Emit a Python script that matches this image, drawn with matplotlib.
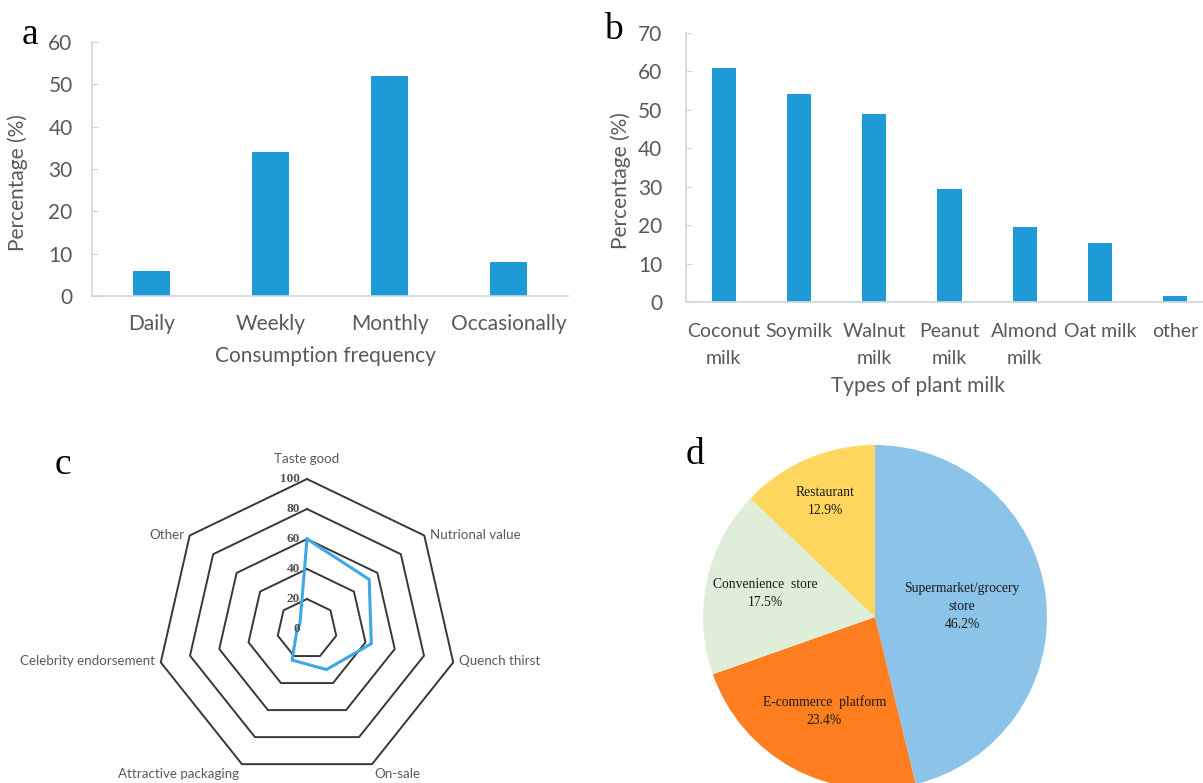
import numpy as np
import matplotlib.pyplot as plt

# consumption frequency (panel a)
freq_labels = ['Daily', 'Weekly', 'Monthly', 'Occasionally']
freq_pct = [6, 34, 52, 8]

# plant milk types (panel b)
milk_labels = ['Coconut\nmilk', 'Soymilk', 'Walnut\nmilk', 'Peanut\nmilk',
               'Almond\nmilk', 'Oat milk', 'other']
milk_pct = [61, 54, 49, 29.5, 19.5, 15.3, 1.5]

# purchase motives (panel c)
motive_labels = ['Taste good', 'Nutrional value', 'Quench thirst', 'On-sale',
                 'Attractive packaging', 'Celebrity endorsement', 'Other']
motive_pct = [60, 53, 44, 30, 23, 7, 6]
ring_levels = [20, 40, 60, 80, 100]
ring_ticks = [0, 20, 40, 60, 80, 100]

# purchase channels (panel d)
channel_labels = ['Supermarket/grocery\nstore', 'E-commerce  platform',
                  'Convenience  store', 'Restaurant']
channel_pct = [46.2, 23.4, 17.5, 12.9]
channel_colors = ['#8CC3E8', '#FF7F20', '#DEEED8', '#FFD75E']

BAR = '#1E9BD7'
GREY = '#595959'
AXIS = '#CDD5DE'
SANS = 'Lato'
SERIF = 'Liberation Serif'
FS = 15

fig = plt.figure(figsize=(12.03, 7.83), dpi=100)


def style_bar_axes(ax, xsize=FS, xpad=13):
    for s in ['top', 'right']:
        ax.spines[s].set_visible(False)
    for s in ['left', 'bottom']:
        ax.spines[s].set_color(AXIS)
        ax.spines[s].set_linewidth(1.2)
    ax.tick_params(axis='y', direction='in', length=4, color=AXIS,
                   labelsize=FS, labelcolor=GREY, pad=14)
    ax.tick_params(axis='x', length=0, labelsize=xsize, labelcolor=GREY, pad=xpad)
    for t in ax.get_xticklabels() + ax.get_yticklabels():
        t.set_family(SANS)


# a
ax_a = fig.add_axes([92 / 1203, 1 - 296 / 783, 476 / 1203, 254 / 783])
xa = np.arange(len(freq_labels))
ax_a.bar(xa, freq_pct, width=0.31, color=BAR)
ax_a.set_xlim(-0.5, len(freq_labels) - 0.5)
ax_a.set_ylim(0, 60)
ax_a.set_yticks(range(0, 61, 10))
ax_a.set_xticks(xa)
ax_a.set_xticklabels(freq_labels)
style_bar_axes(ax_a)
ax_a.set_xlabel('Consumption frequency', fontsize=FS, color=GREY, family=SANS)
ax_a.xaxis.set_label_coords(0.49, -0.195)
ax_a.set_ylabel('Percentage (%)', fontsize=FS, color=GREY, family=SANS)
ax_a.yaxis.set_label_coords(-0.135, 0.445)

# b
ax_b = fig.add_axes([686 / 1203, 1 - 302 / 783, 527 / 1203, 269 / 783])
xb = np.arange(len(milk_labels))
ax_b.bar(xb, milk_pct, width=0.32, color=BAR)
ax_b.set_xlim(-0.5, len(milk_labels) - 0.5)
ax_b.set_ylim(0, 70)
ax_b.set_yticks(range(0, 71, 10))
ax_b.set_xticks(xb)
ax_b.set_xticklabels(milk_labels, linespacing=1.75, va='top')
style_bar_axes(ax_b, xsize=14, xpad=15)
ax_b.tick_params(axis='y', pad=17)
ax_b.set_xlabel('Types of plant milk', fontsize=FS, color=GREY, family=SANS)
ax_b.xaxis.set_label_coords(0.44, -0.275)
ax_b.set_ylabel('Percentage (%)', fontsize=FS, color=GREY, family=SANS)
ax_b.yaxis.set_label_coords(-0.105, 0.45)

# c: radar with heptagonal rings
ax_c = fig.add_axes([157 / 1203, 1 - 779 / 783, 300 / 1203, 300 / 783],
                    projection='polar')
n = len(motive_labels)
theta = np.arange(n) * 2 * np.pi / n
closed = np.append(theta, theta[0])
ax_c.set_theta_zero_location('N')
ax_c.set_theta_direction(-1)
ax_c.set_ylim(0, 100)
ax_c.grid(False)
ax_c.spines['polar'].set_visible(False)
ax_c.set_xticks([])
ax_c.set_yticks([])
ax_c.patch.set_alpha(0)
for lv in ring_levels:
    ax_c.plot(closed, [lv] * (n + 1), color='#383838', lw=1.4, clip_on=False)
ax_c.plot(closed, motive_pct + motive_pct[:1], color='#3FA7E3', lw=2.2,
          clip_on=False, zorder=3)
for lv in ring_ticks:
    ax_c.annotate(str(lv), xy=(0, lv), xytext=(-5, 0), textcoords='offset points',
                  ha='right', va='center', fontsize=9.5, color='#505050',
                  family=SERIF, weight='bold', annotation_clip=False)
label_offsets = [(0, 10, 'center', 'bottom'), (4, 0, 'left', 'center'),
                 (4, 1, 'left', 'center'), (2, -3, 'left', 'top'),
                 (-2, -3, 'right', 'top'), (-4, 1, 'right', 'center'),
                 (-4, 0, 'right', 'center')]
for th, lab, (dx, dy, ha, va) in zip(theta, motive_labels, label_offsets):
    ax_c.annotate(lab, xy=(th, 100), xytext=(dx, dy), textcoords='offset points',
                  ha=ha, va=va, fontsize=9.6, color=GREY, family=SANS,
                  annotation_clip=False)

# d: pie of purchase channels
ax_d = fig.add_axes([703 / 1203, 1 - 789 / 783, 344 / 1203, 344 / 783])
wedges, _ = ax_d.pie(channel_pct, colors=channel_colors, startangle=90,
                     counterclock=False, radius=1,
                     wedgeprops=dict(linewidth=0))
ax_d.set_xlim(-1, 1)
ax_d.set_ylim(-1, 1)
ax_d.set_aspect('equal')
label_dist = [0.51, 0.62, 0.65, 0.73]
for w, lab, pct, d in zip(wedges, channel_labels, channel_pct, label_dist):
    mid = np.deg2rad((w.theta1 + w.theta2) / 2)
    ax_d.text(d * np.cos(mid), d * np.sin(mid), f'{lab}\n{pct}%',
              ha='center', va='center', fontsize=9.8, family=SERIF,
              color='#1A1A1A', linespacing=1.5)

# panel letters
for x, y, s in [(22, 35, 'a'), (604, 30, 'b'), (55, 465, 'c'), (686, 455, 'd')]:
    fig.text(x / 1203, 1 - y / 783, s, fontsize=27, family=SERIF,
             ha='left', va='center')

fig.savefig('out.png', dpi=100)
